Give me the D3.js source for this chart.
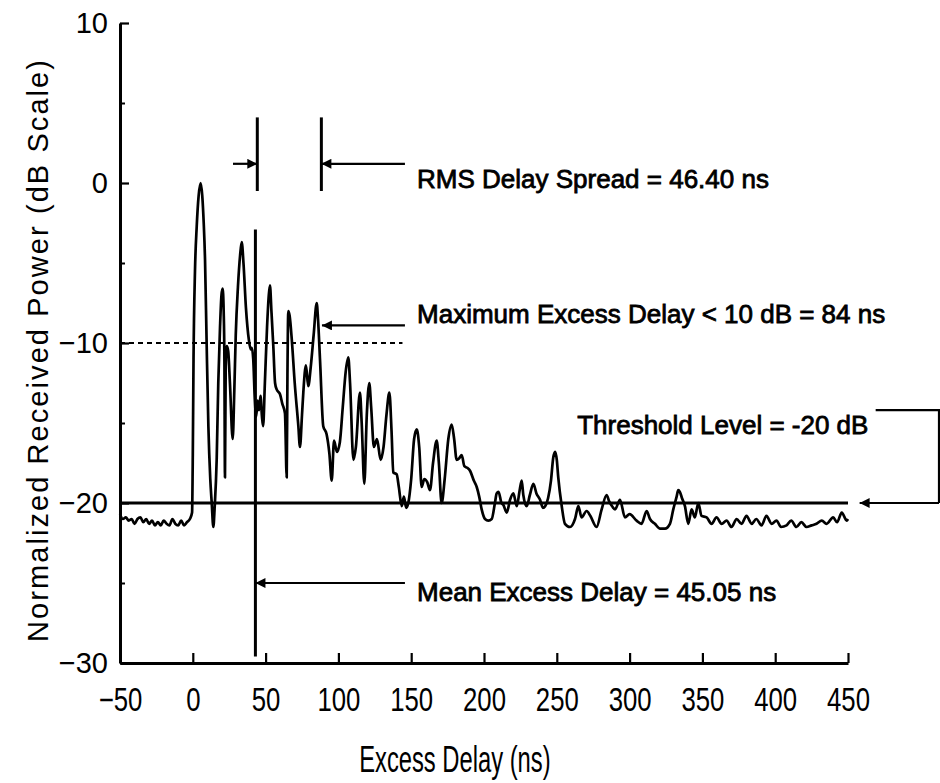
<!DOCTYPE html>
<html>
<head>
<meta charset="utf-8">
<script src="https://cdn.jsdelivr.net/npm/d3@7/dist/d3.min.js"></script>
<style>
  body { margin: 0; background: #fff; }
  text { font-family: "Liberation Sans", Arial, sans-serif; fill: #000; }
</style>
</head>
<body>
<div class="canvas"></div>
<script>
const dimensions = { width: 940, height: 783 };
const plot = { left: 120, right: 848, top: 23, bottom: 663 };

// power delay profile (ns, dB)
const delayNs = [
  -50, -48, -46, -44, -42, -40, -38, -36, -34, -32, -30, -28, -26, -24, -22, -20, -18, -16, -14, -12, -10, -8, -6, -4, -2, -0.5,
  0, 0.5, 1.5, 2.7, 4, 5.4, 6.5, 7.5, 8.4, 9.5, 10.7, 12, 13, 14.1, 15, 16.4, 17.5, 18.7, 19.7, 20.5, 21.2, 21.7, 22.1, 22.6,
  23.3, 24.3, 25.5, 27.4, 28.5, 29.5, 31, 32.5, 33.6, 34.8, 36.5, 38.5, 39.8, 40.5, 41.5, 42.5, 43.5, 44.5, 45.5, 46.5, 47.5,
  48.3, 49.5, 51, 52.2, 53, 54, 55.3, 56.5, 57.6, 59.9, 61.5, 63.3, 64.5, 65, 65.6, 66.5, 68, 70, 72.5, 73.6, 75, 75.9, 77.7,
  79.3, 81, 83, 85.1, 86, 87.4, 89.6, 91.9, 93.8, 95.4, 97, 99, 101, 103, 105, 106.8, 108, 110.3, 112, 114.8, 116, 117.8,
  119.5, 121.2, 122.5, 124.4, 126.5, 129, 131, 133, 135, 136.5, 137.7, 140, 141.5, 143.5, 145, 146.5, 148, 150, 152, 153.8,
  155.5, 157.2, 159, 161, 162.9, 165, 167.5, 169, 170.9, 173, 175.5, 177.8, 179.5, 181.2, 183, 184.7, 186.5, 188.5, 190.5,
  193, 195, 196.7, 198.4, 200.7, 203, 205.3, 207.5, 208.7, 210, 212, 213.2, 215.6, 217.9, 220.2, 222.5, 224.5, 225.9, 227,
  229.3, 231.5, 233.9, 236, 238.5, 240.5, 242, 244, 246, 247.5, 248.8, 250, 251, 253.4, 255.6, 259.1, 262.5, 264.8, 267,
  270.5, 273, 277.3, 280.8, 284.2, 286, 288, 290, 293.4, 296.8, 300, 304.8, 308.2, 311.7, 314, 317.4, 320.9, 324.3, 327.7,
  330, 332.3, 333.4, 334.5, 336, 338, 340.3, 342.6, 344.8, 347.2, 349.4, 352.9, 356.3, 359.7, 363.2, 366.6, 370, 373.5,
  376.9, 380.3, 383.8, 387, 390.6, 394, 397.5, 400.9, 404, 407.8, 411, 414.6, 418, 421.5, 425, 428.4, 432, 435.3, 439.8,
  442.5, 445.7, 449.1, 450
];
const powerDb = [
  -20.7, -21.0, -20.9, -21.1, -21.0, -21.3, -21.0, -20.9, -21.2, -21.0, -21.3, -21.1, -21.4, -21.2, -21.4, -21.1, -21.3, -21.4, -21.0, -21.3, -21.4, -21.1, -21.4, -21.2, -21.0, -20.6,
  -17, -11, -5.5, -2.7, -0.8, 0, -0.8, -2.5, -4.8, -10, -15.2, -18.5, -20, -21.5, -20.3, -17.3, -12.5, -9, -7, -6.6, -8, -11, -18.4, -11.5,
  -10.2, -10.5, -12.5, -16, -13, -9.5, -6.5, -4.5, -3.7, -5, -7.8, -9.8, -10.4, -10.3, -11, -13.3, -14.6, -13.6, -14.2, -13.3, -14.6,
  -15.2, -12.5, -9, -7, -6.4, -8, -10.2, -12.5, -12.9, -13.2, -13.8, -14.4, -18.4, -12, -8.0, -8.3, -9.8, -12.5, -15.2, -16.5, -14.5, -13.1, -11.4,
  -12.7, -11.5, -9.5, -7.5, -8.5, -11.1, -15.2, -15.7, -16.9, -18.6, -16.1, -16.8, -16.2, -14, -11.8, -10.9, -12.5, -17.3, -16.5, -13.1, -15, -18.8,
  -14.5, -12.5, -14, -16.5, -16, -17.3, -16.5, -14.5, -13.1, -15.5, -18.1, -18.2, -19, -20.2, -19.6, -20.3, -20, -18.5, -16, -15.4,
  -16.5, -19, -18.5, -18.7, -19.2, -17.5, -16.1, -17.5, -20, -18.5, -16, -15.1, -16, -17.3, -17.2, -17, -17.7, -17.8, -18,
  -18.6, -19, -19.6, -20.4, -21, -21.1, -21, -20, -19.4, -19.3, -20, -20.1, -20.6, -19.8, -19.4, -20.2, -19.2, -18.6, -19.5,
  -20.2, -19.5, -18.8, -19.4, -19.8, -20.3, -20.2, -19.7, -18.6, -17.2, -16.8, -17.3, -18.4, -20.2, -21.3, -21.5, -21, -20.2, -20.9,
  -20.5, -20.8, -21.5, -20.4, -19.5, -19.9, -20.2, -20.4, -19.8, -20.9, -20.7, -21.1, -21.3, -20.5, -21, -21.3, -21.6, -21.6, -21.3,
  -20.4, -19.6, -19.2, -19.3, -19.7, -20.2, -21.3, -20.4, -20.9, -20, -20.8, -20.9, -21.3, -20.9, -21.3, -21.1, -21.5, -21,
  -21.3, -20.8, -21.3, -21, -21.4, -20.8, -21.3, -21.1, -21.5, -21.4, -21.1, -21.5, -21.2, -21.5, -21.4, -21.3, -21.1, -21.3, -20.9,
  -21.2, -20.6, -21.1, -21.0
];

const xTicks = [-50, 0, 50, 100, 150, 200, 250, 300, 350, 400, 450];
const yTicks = [10, 0, -10, -20, -30];
const yMinorTicks = [5, -5, -15, -25];

const thresholdDb = -20;
const tenDbBelowPeak = -10;
const meanLineNs = 43;     // vertical line position in the picture
const rmsStartNs = 44.3;
const rmsEndNs = 88.3;

const svg = d3.select('.canvas')
  .append('svg')
  .attr('width', dimensions.width)
  .attr('height', dimensions.height);

const x = d3.scaleLinear().domain([-50, 450]).range([plot.left, plot.right]);
const y = d3.scaleLinear().domain([-30, 10]).range([plot.bottom, plot.top]);

svg.append('defs').append('marker')
  .attr('id', 'arrow')
  .attr('viewBox', '0 0 10 10')
  .attr('refX', 10).attr('refY', 5)
  .attr('markerUnits', 'userSpaceOnUse')
  .attr('markerWidth', 15).attr('markerHeight', 10)
  .attr('orient', 'auto')
  .append('path')
  .attr('d', 'M0,0L10,5L0,10z')
  .attr('fill', '#000');

// reference lines
svg.append('line')
  .attr('x1', x(-50)).attr('x2', x(144))
  .attr('y1', y(tenDbBelowPeak)).attr('y2', y(tenDbBelowPeak))
  .attr('stroke', '#000').attr('stroke-width', 2.2)
  .attr('stroke-dasharray', '5,4');

svg.append('line')
  .attr('x1', x(-50)).attr('x2', x(450))
  .attr('y1', y(thresholdDb)).attr('y2', y(thresholdDb))
  .attr('stroke', '#000').attr('stroke-width', 2.8);

// the trace
const line = d3.line()
  .x(d => x(d[0]))
  .y(d => y(d[1]))
  .curve(d3.curveMonotoneX);

svg.append('path')
  .datum(delayNs.map((d, i) => [d, powerDb[i]]))
  .attr('d', line)
  .attr('fill', 'none')
  .attr('stroke', '#000')
  .attr('stroke-width', 2.7)
  .attr('stroke-linejoin', 'round');

// axes
svg.append('g')
  .attr('transform', `translate(0,${plot.bottom})`)
  .call(d3.axisBottom(x).tickValues(xTicks).tickSizeInner(-10).tickSizeOuter(0))
  .call(g => g.select('.domain').attr('stroke-width', 3))
  .call(g => g.selectAll('.tick line').attr('stroke-width', 2.2))
  .call(g => g.selectAll('.tick text')
    .attr('y', 0).attr('dy', 0)
    .attr('font-size', 33)
    .attr('transform', 'translate(0,48) scale(0.78,1)'));

svg.append('g')
  .attr('transform', `translate(${plot.left},0)`)
  .call(d3.axisLeft(y).tickValues(yTicks).tickSizeInner(-9).tickSizeOuter(0).tickPadding(12))
  .call(g => g.select('.domain').attr('stroke-width', 3))
  .call(g => g.selectAll('.tick line').attr('stroke-width', 2.2))
  .call(g => g.selectAll('.tick text').attr('font-size', 29));

svg.append('g')
  .attr('transform', `translate(${plot.left},0)`)
  .call(d3.axisLeft(y).tickValues(yMinorTicks).tickSize(-5).tickFormat(''))
  .call(g => g.select('.domain').remove())
  .call(g => g.selectAll('.tick line').attr('stroke-width', 2));

// axis titles
svg.append('text')
  .attr('transform', 'translate(48,351) rotate(-90)')
  .attr('text-anchor', 'middle')
  .attr('font-size', 29)
  .attr('textLength', 582)
  .attr('lengthAdjust', 'spacing')
  .text('Normalized Received Power (dB Scale)');

svg.append('text')
  .attr('transform', `translate(${x(180)},772) scale(0.66,1)`)
  .attr('text-anchor', 'middle')
  .attr('font-size', 36)
  .text('Excess Delay (ns)');

// annotations
const vLines = [
  { ns: meanLineNs, top: -2.9, bottom: -29.6 },
  { ns: rmsStartNs, top: 4.1, bottom: -0.5 },
  { ns: rmsEndNs, top: 4.1, bottom: -0.5 }
];
svg.selectAll('.vline')
  .data(vLines)
  .enter().append('line')
  .attr('class', 'vline')
  .attr('x1', d => x(d.ns)).attr('x2', d => x(d.ns))
  .attr('y1', d => y(d.top)).attr('y2', d => y(d.bottom))
  .attr('stroke', '#000').attr('stroke-width', 3);

const arrows = [
  { from: [27.6, 1.2], to: [rmsStartNs, 1.2] },
  { from: [145.7, 1.2], to: [rmsEndNs, 1.2] },
  { from: [145.7, -8.9], to: [88.7, -8.9] },
  { from: [145.7, -25], to: [meanLineNs, -25] },
  { from: [512.5, thresholdDb], to: [458, thresholdDb] }
];
svg.selectAll('.arrow')
  .data(arrows)
  .enter().append('line')
  .attr('class', 'arrow')
  .attr('x1', d => x(d.from[0])).attr('y1', d => y(d.from[1]))
  .attr('x2', d => x(d.to[0])).attr('y2', d => y(d.to[1]))
  .attr('stroke', '#000').attr('stroke-width', 2.2)
  .attr('marker-end', 'url(#arrow)');

// bracket at right edge, down to the threshold arrow
svg.append('path')
  .attr('d', d3.line()([[x(469), y(-14.2)], [x(512.5), y(-14.2)], [x(512.5), y(thresholdDb)]]))
  .attr('fill', 'none')
  .attr('stroke', '#000').attr('stroke-width', 2.2);

const labels = [
  { ns: 154, db: -0.31, text: 'RMS Delay Spread = 46.40 ns' },
  { ns: 154, db: -8.75, text: 'Maximum Excess Delay < 10 dB = 84 ns' },
  { ns: 264, db: -15.7, text: 'Threshold Level = -20 dB' },
  { ns: 154, db: -26.1, text: 'Mean Excess Delay = 45.05 ns' }
];
svg.selectAll('.note')
  .data(labels)
  .enter().append('text')
  .attr('class', 'note')
  .attr('x', d => x(d.ns))
  .attr('y', d => y(d.db))
  .attr('font-size', 26)
  .attr('stroke', '#000')
  .attr('stroke-width', 0.8)
  .text(d => d.text);
</script>
</body>
</html>
